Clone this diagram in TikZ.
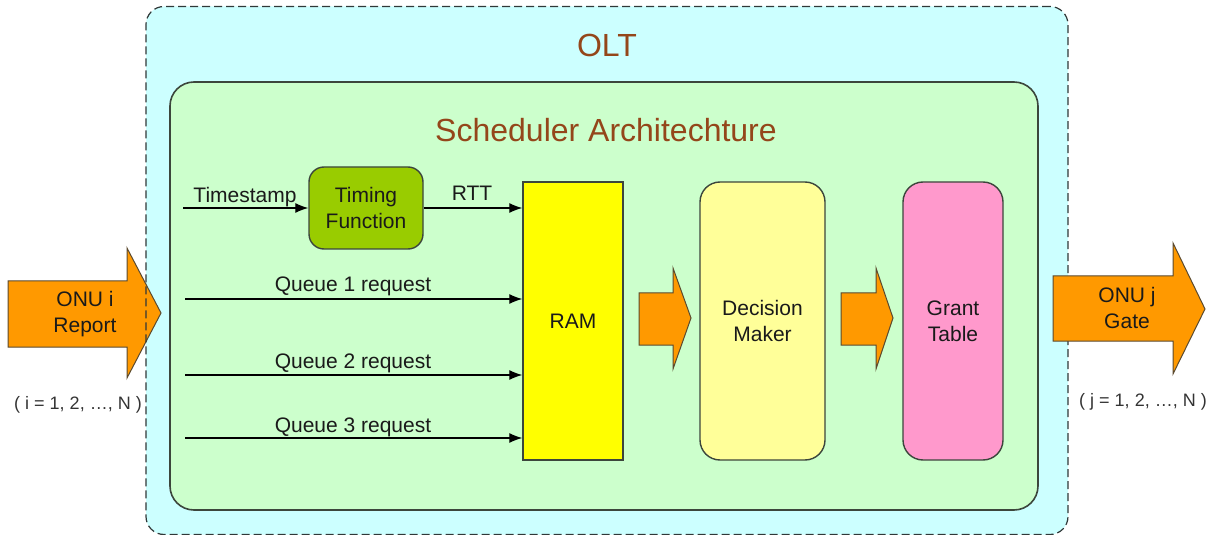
\documentclass[tikz,border=0pt]{standalone}
\usepackage{fontspec}
\setmainfont{Liberation Sans}
\usetikzlibrary{arrows.meta}

\definecolor{oltfill}{HTML}{CCFFFF}
\definecolor{schedfill}{HTML}{CCFFCC}
\definecolor{timingfill}{HTML}{99CC00}
\definecolor{ramfill}{HTML}{FFFF00}
\definecolor{decfill}{HTML}{FFFF99}
\definecolor{grantfill}{HTML}{FF99CC}
\definecolor{orangefill}{HTML}{FF9900}
\definecolor{orangeedge}{HTML}{5A4A30}
\definecolor{edgegray}{HTML}{3C463C}
\definecolor{dashgray}{HTML}{303838}
\definecolor{titlebrown}{HTML}{94461A}
\definecolor{textdark}{HTML}{1A1A1A}
\definecolor{paramgray}{HTML}{333333}

\tikzset{
  bodyfont/.style={font=\fontsize{10.5}{13}\selectfont},
  titletext/.style={text=titlebrown, font=\fontsize{16}{19}\selectfont, inner sep=0pt},
  lbl/.style={bodyfont, text=textdark, inner sep=0pt, align=center},
  paramtext/.style={text=paramgray, font=\fontsize{9}{11}\selectfont, inner sep=0pt},
  unitbox/.style={draw=edgegray, line width=0.7pt, bodyfont, text=textdark,
                  align=center, inner sep=0pt},
  flow/.style={-{Latex[length=6.5pt,width=5pt]}, line width=0.6pt, draw=black},
  blockarrow/.style={fill=orangefill, draw=orangeedge, line width=0.5pt, line join=miter},
}

\begin{document}
\begin{tikzpicture}[x=0.5pt, y=-0.5pt]
\useasboundingbox (0,0) rectangle (1228,535);

% OLT enclosure: fill first, border drawn after the incoming report arrow
\node[fill=oltfill, rounded corners=9pt, minimum width=461pt, minimum height=264pt,
      inner sep=0pt] (olt) at (607,270.5) {};

% incoming report arrow (ONU i)
\draw[blockarrow] (8,281) -- (127,281) -- (127,248) -- (161,313) -- (127,378)
                  -- (127,347) -- (8,347) -- cycle;
\node[lbl] (onui) at (85,314) {ONU i\\Report};
\node[paramtext] (irange) at (78,405) {( i = 1, 2, …, N )};

\node[draw=dashgray, dash pattern=on 4pt off 2pt, line width=0.6pt, rounded corners=9pt,
      minimum width=461pt, minimum height=264pt, inner sep=0pt] (oltborder) at (olt) {};
\node[titletext] (oltlabel) at (607,45) {OLT};

% scheduler architecture block
\node[fill=schedfill, draw=edgegray, line width=0.8pt, rounded corners=12pt,
      minimum width=434pt, minimum height=214pt, inner sep=0pt] (sched) at (604,296) {};
\node[titletext] (schedlabel) at (606,130) {Scheduler Architechture};

% functional units
\node[unitbox, fill=timingfill, rounded corners=7.5pt,
      minimum width=57pt, minimum height=41pt] (timing) at (366,208) {Timing\\Function};
\node[unitbox, fill=ramfill, minimum width=50pt, minimum height=139pt] (ram) at (573,321) {RAM};
\node[unitbox, fill=decfill, rounded corners=10pt,
      minimum width=62.5pt, minimum height=139pt] (decision) at (762.5,321) {Decision\\Maker};
\node[unitbox, fill=grantfill, rounded corners=10pt,
      minimum width=50pt, minimum height=139pt] (grant) at (953,321) {Grant\\Table};

% timing path
\coordinate (tsin) at (183,208);
\draw[flow] (tsin) -- (timing.west);
\node[lbl, anchor=base] (tslabel) at (245,203) {Timestamp};
\draw[flow] (timing.east) -- (timing.east -| ram.west);
\node[lbl, anchor=base] (rttlabel) at (472,201) {RTT};

% queue requests
\coordinate (q1) at (185,299);
\coordinate (q2) at (185,375);
\coordinate (q3) at (185,438);
\draw[flow] (q1) -- (q1 -| ram.west);
\draw[flow] (q2) -- (q2 -| ram.west);
\draw[flow] (q3) -- (q3 -| ram.west);
\node[lbl, anchor=base] (q1label) at (353,292) {Queue 1 request};
\node[lbl, anchor=base] (q2label) at (353,368) {Queue 2 request};
\node[lbl, anchor=base] (q3label) at (353,432) {Queue 3 request};

% internal block arrows
\draw[blockarrow] (639,293) -- (673,293) -- (673,268) -- (691,318) -- (673,369)
                  -- (673,345) -- (639,345) -- cycle;
\draw[blockarrow] (841,293) -- (876,293) -- (876,268) -- (893,318) -- (876,369)
                  -- (876,345) -- (841,345) -- cycle;

% outgoing gate arrow (ONU j)
\draw[blockarrow] (1053,276) -- (1173,276) -- (1173,243) -- (1205,309) -- (1173,374)
                  -- (1173,341) -- (1053,341) -- cycle;
\node[lbl] (onuj) at (1127,308) {ONU j\\Gate};
\node[paramtext] (jrange) at (1143,402) {( j = 1, 2, …, N )};
\end{tikzpicture}
\end{document}
